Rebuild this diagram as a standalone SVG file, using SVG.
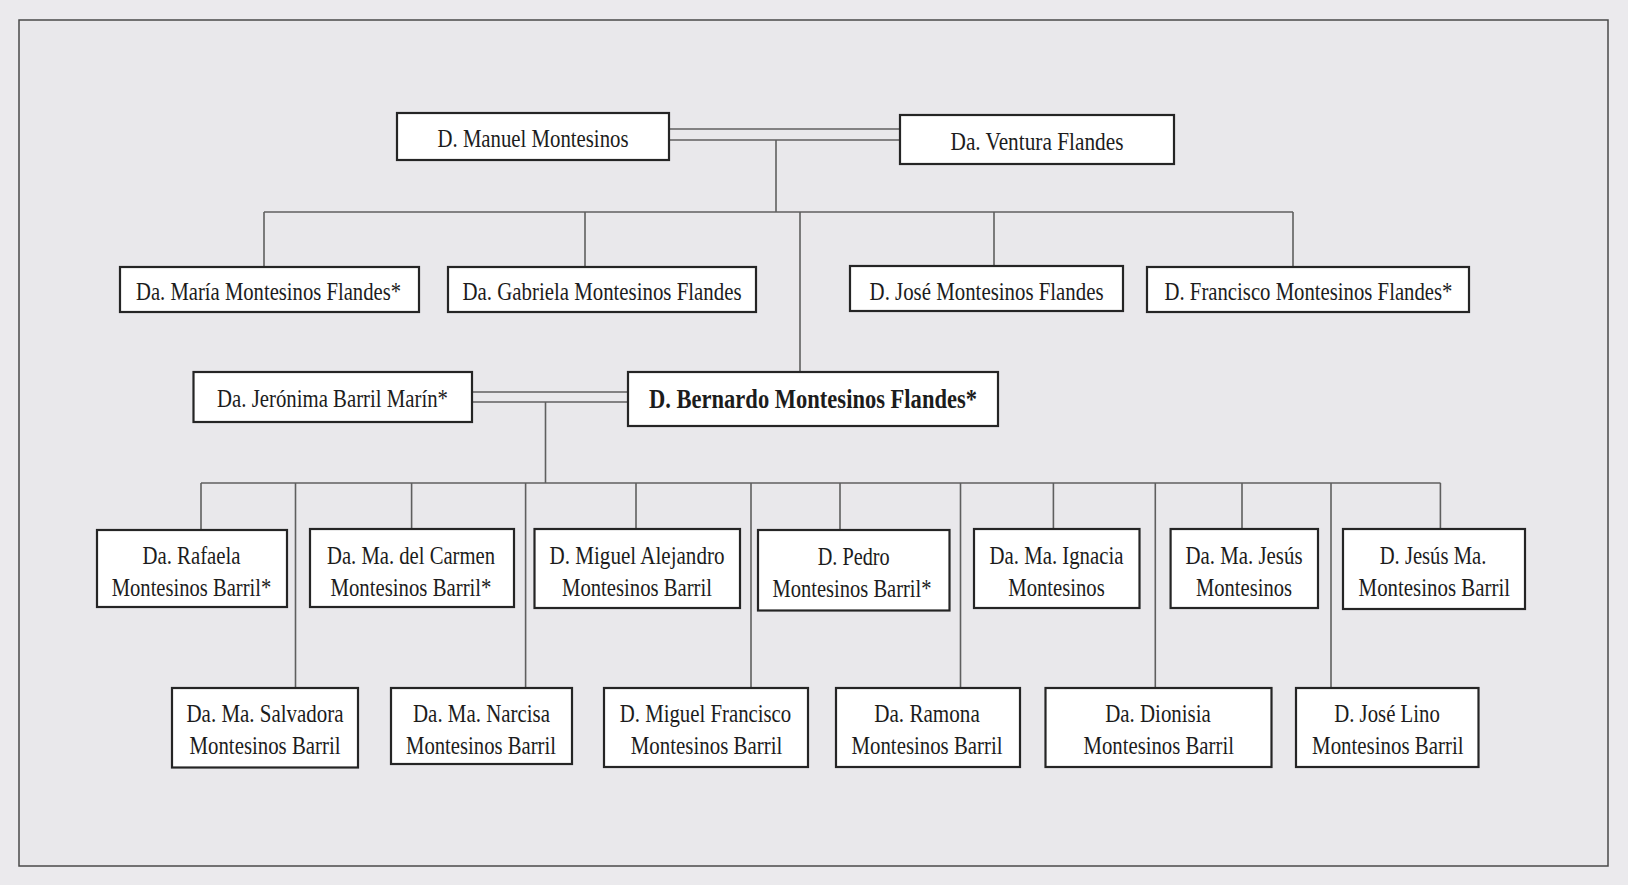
<svg xmlns="http://www.w3.org/2000/svg" width="1628" height="885" viewBox="0 0 1628 885">
<style>
.bg{fill:#ebeaed}
.frame{fill:#e9e8eb;stroke:#4a4a4a;stroke-width:1.5}
.box{fill:#ffffff;stroke:#252525;stroke-width:2.2}
.t{font-family:"Liberation Serif","Times New Roman",serif;font-size:25px;fill:#1c1c1c;text-anchor:middle}
.r1{font-size:26px}
.b{font-weight:bold;font-size:26.5px}
.ln{stroke:#5f5f5f;stroke-width:1.6;fill:none}
</style>
<rect class="bg" x="0" y="0" width="1628" height="885"/>
<rect class="frame" x="19" y="20" width="1589" height="846"/>
<g id="connectors">
<line class="ln" x1="669" y1="129" x2="900" y2="129"/>
<line class="ln" x1="669" y1="140" x2="900" y2="140"/>
<line class="ln" x1="776" y1="140" x2="776" y2="212"/>
<line class="ln" x1="264" y1="212" x2="1293" y2="212"/>
<line class="ln" x1="264" y1="212" x2="264" y2="267"/>
<line class="ln" x1="585" y1="212" x2="585" y2="267"/>
<line class="ln" x1="994" y1="212" x2="994" y2="266"/>
<line class="ln" x1="1293" y1="212" x2="1293" y2="267"/>
<line class="ln" x1="800" y1="212" x2="800" y2="372"/>
<line class="ln" x1="472" y1="392" x2="628" y2="392"/>
<line class="ln" x1="472" y1="402" x2="628" y2="402"/>
<line class="ln" x1="545.5" y1="402" x2="545.5" y2="483"/>
<line class="ln" x1="201" y1="483" x2="1440.5" y2="483"/>
<line class="ln" x1="201" y1="483" x2="201" y2="530"/>
<line class="ln" x1="411.6" y1="483" x2="411.6" y2="529"/>
<line class="ln" x1="636" y1="483" x2="636" y2="529"/>
<line class="ln" x1="840" y1="483" x2="840" y2="530"/>
<line class="ln" x1="1053.4" y1="483" x2="1053.4" y2="529"/>
<line class="ln" x1="1242" y1="483" x2="1242" y2="529"/>
<line class="ln" x1="1440.4" y1="483" x2="1440.4" y2="529"/>
<line class="ln" x1="295.5" y1="483" x2="295.5" y2="688"/>
<line class="ln" x1="525.6" y1="483" x2="525.6" y2="688"/>
<line class="ln" x1="751" y1="483" x2="751" y2="688"/>
<line class="ln" x1="960.5" y1="483" x2="960.5" y2="688"/>
<line class="ln" x1="1155.3" y1="483" x2="1155.3" y2="688"/>
<line class="ln" x1="1331" y1="483" x2="1331" y2="688"/>
</g>
<g id="manuel"><rect class="box" x="397" y="113" width="272" height="47"/><text class="t r1" x="533" y="147" textLength="191" lengthAdjust="spacingAndGlyphs">D. Manuel Montesinos</text></g>
<g id="ventura"><rect class="box" x="900" y="115" width="274" height="49"/><text class="t r1" x="1037" y="150" textLength="173" lengthAdjust="spacingAndGlyphs">Da. Ventura Flandes</text></g>
<g id="maria"><rect class="box" x="120" y="267" width="299" height="45"/><text class="t" x="268.5" y="300" textLength="265" lengthAdjust="spacingAndGlyphs">Da. María Montesinos Flandes*</text></g>
<g id="gabriela"><rect class="box" x="448" y="267" width="308" height="45"/><text class="t" x="602" y="300" textLength="279" lengthAdjust="spacingAndGlyphs">Da. Gabriela Montesinos Flandes</text></g>
<g id="jose"><rect class="box" x="850" y="266" width="273" height="45"/><text class="t" x="986.6" y="300" textLength="234" lengthAdjust="spacingAndGlyphs">D. José Montesinos Flandes</text></g>
<g id="francisco"><rect class="box" x="1147" y="267" width="322" height="45"/><text class="t" x="1308.5" y="300" textLength="288" lengthAdjust="spacingAndGlyphs">D. Francisco Montesinos Flandes*</text></g>
<g id="jeronima"><rect class="box" x="193.5" y="372" width="278.5" height="50"/><text class="t" x="332.5" y="406.7" textLength="231" lengthAdjust="spacingAndGlyphs">Da. Jerónima Barril Marín*</text></g>
<g id="bernardo"><rect class="box" x="628" y="372" width="370" height="54"/><text class="t b" x="813" y="407.5" textLength="328" lengthAdjust="spacingAndGlyphs">D. Bernardo Montesinos Flandes*</text></g>
<g id="rafaela"><rect class="box" x="97" y="530" width="190" height="77"/><text class="t" x="191.5" y="564" textLength="98" lengthAdjust="spacingAndGlyphs">Da. Rafaela</text><text class="t" x="191.5" y="596" textLength="159.5" lengthAdjust="spacingAndGlyphs">Montesinos Barril*</text></g>
<g id="carmen"><rect class="box" x="310" y="529" width="204" height="78"/><text class="t" x="411" y="564" textLength="168" lengthAdjust="spacingAndGlyphs">Da. Ma. del Carmen</text><text class="t" x="411" y="596" textLength="161" lengthAdjust="spacingAndGlyphs">Montesinos Barril*</text></g>
<g id="miguel-alejandro"><rect class="box" x="534.5" y="529" width="205.5" height="79"/><text class="t" x="637" y="564" textLength="175" lengthAdjust="spacingAndGlyphs">D. Miguel Alejandro</text><text class="t" x="637" y="596" textLength="150" lengthAdjust="spacingAndGlyphs">Montesinos Barril</text></g>
<g id="pedro"><rect class="box" x="758" y="530" width="191.5" height="80.5"/><text class="t" x="853.7" y="565" textLength="72" lengthAdjust="spacingAndGlyphs">D. Pedro</text><text class="t" x="852" y="597" textLength="159" lengthAdjust="spacingAndGlyphs">Montesinos Barril*</text></g>
<g id="ignacia"><rect class="box" x="974" y="529" width="165.5" height="79"/><text class="t" x="1056.5" y="564" textLength="134" lengthAdjust="spacingAndGlyphs">Da. Ma. Ignacia</text><text class="t" x="1056.5" y="596" textLength="96.5" lengthAdjust="spacingAndGlyphs">Montesinos</text></g>
<g id="ma-jesus"><rect class="box" x="1170.6" y="529" width="147.4" height="79"/><text class="t" x="1244" y="564" textLength="117" lengthAdjust="spacingAndGlyphs">Da. Ma. Jesús</text><text class="t" x="1244" y="596" textLength="96" lengthAdjust="spacingAndGlyphs">Montesinos</text></g>
<g id="jesus-ma"><rect class="box" x="1343" y="529" width="182" height="80"/><text class="t" x="1433" y="564" textLength="106.7" lengthAdjust="spacingAndGlyphs">D. Jesús Ma.</text><text class="t" x="1434.3" y="596" textLength="151.5" lengthAdjust="spacingAndGlyphs">Montesinos Barril</text></g>
<g id="salvadora"><rect class="box" x="172" y="688" width="186" height="79.5"/><text class="t" x="265" y="722" textLength="157" lengthAdjust="spacingAndGlyphs">Da. Ma. Salvadora</text><text class="t" x="265" y="753.5" textLength="151" lengthAdjust="spacingAndGlyphs">Montesinos Barril</text></g>
<g id="narcisa"><rect class="box" x="391" y="688" width="181" height="76"/><text class="t" x="481.5" y="722" textLength="137" lengthAdjust="spacingAndGlyphs">Da. Ma. Narcisa</text><text class="t" x="481" y="753.5" textLength="150" lengthAdjust="spacingAndGlyphs">Montesinos Barril</text></g>
<g id="miguel-francisco"><rect class="box" x="604" y="688" width="204" height="79"/><text class="t" x="705.5" y="722" textLength="171.5" lengthAdjust="spacingAndGlyphs">D. Miguel Francisco</text><text class="t" x="706.5" y="753.5" textLength="151.6" lengthAdjust="spacingAndGlyphs">Montesinos Barril</text></g>
<g id="ramona"><rect class="box" x="836" y="688" width="184" height="79"/><text class="t" x="927" y="722" textLength="105.6" lengthAdjust="spacingAndGlyphs">Da. Ramona</text><text class="t" x="927" y="753.5" textLength="151" lengthAdjust="spacingAndGlyphs">Montesinos Barril</text></g>
<g id="dionisia"><rect class="box" x="1045.5" y="688" width="226" height="79"/><text class="t" x="1158" y="722" textLength="105.6" lengthAdjust="spacingAndGlyphs">Da. Dionisia</text><text class="t" x="1158.7" y="753.5" textLength="150.5" lengthAdjust="spacingAndGlyphs">Montesinos Barril</text></g>
<g id="jose-lino"><rect class="box" x="1296" y="688" width="182.5" height="79"/><text class="t" x="1387" y="722" textLength="105.6" lengthAdjust="spacingAndGlyphs">D. José Lino</text><text class="t" x="1387.8" y="753.5" textLength="151.5" lengthAdjust="spacingAndGlyphs">Montesinos Barril</text></g>
</svg>
